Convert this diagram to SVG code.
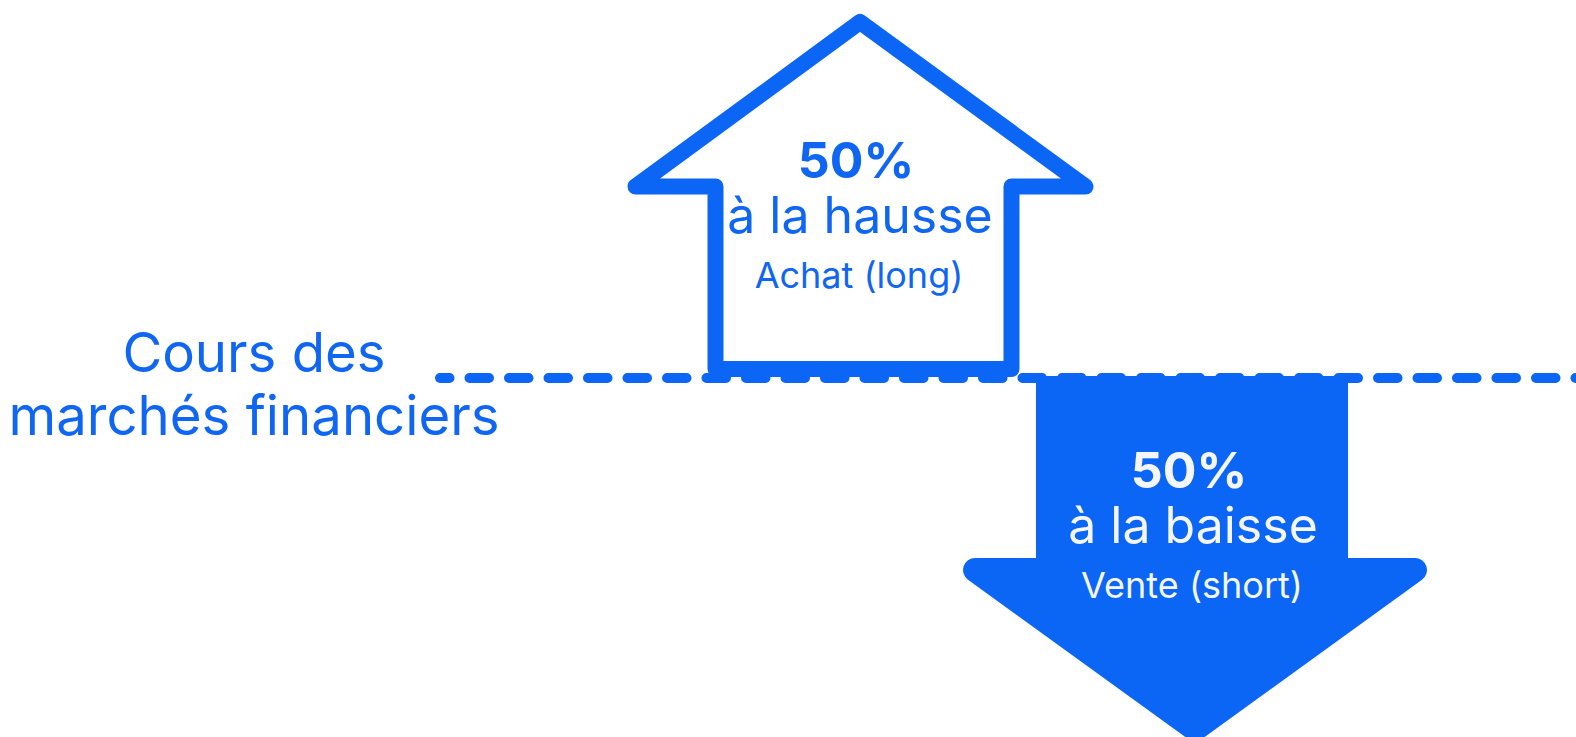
<svg xmlns="http://www.w3.org/2000/svg" width="1576" height="737" viewBox="0 0 1576 737">
<style>
.t{font-family:Inter,"Liberation Sans",sans-serif;text-anchor:middle}
.b{font-weight:700;font-size:50px}
.m{font-size:50px}
.s{font-size:36px}
.blue{fill:#0f66f2}
.wh{fill:#f4f6fa}
</style>
<rect width="1576" height="737" fill="#ffffff"/>
<g id="connectors">
<line x1="440" y1="378" x2="1585" y2="378" stroke="#0b66f5" stroke-width="10" stroke-linecap="round" stroke-dasharray="19.5 20" stroke-dashoffset="10"/>
</g>
<g id="label-cours">
<text class="t blue" x="254" y="372" font-size="54.5">Cours des</text>
<text class="t blue" x="254" y="435" font-size="54.5">marchés financiers</text>
</g>
<g id="arrow-up">
<path d="M715.5 369 V186.5 H635.5 L860 22 L1085.5 186.5 H1011.5 V369 Z" fill="#ffffff" stroke="#0b66f5" stroke-width="16" stroke-linejoin="round"/>
<text class="t b blue" x="856" y="178">50%</text>
<text class="t m blue" x="860" y="233">à la hausse</text>
<text class="t s blue" x="859" y="288">Achat (long)</text>
</g>
<g id="arrow-down">
<path d="M1036 376 H1348 V558 H1415 A12 12 0 0 1 1422 579.7 L1195 744 L968 579.7 A12 12 0 0 1 975 558 H1036 Z" fill="#0b66f5"/>
<text class="t b wh" x="1189" y="488">50%</text>
<text class="t m wh" x="1193" y="543">à la baisse</text>
<text class="t s wh" x="1192" y="598" font-size="37">Vente (short)</text>
</g>
</svg>
